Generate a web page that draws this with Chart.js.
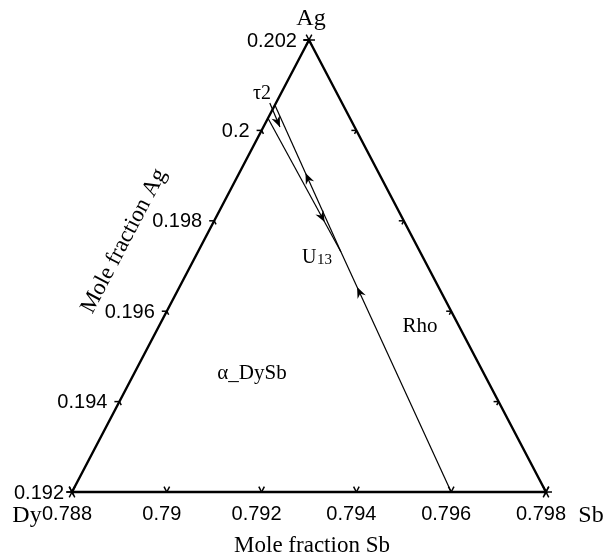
<!DOCTYPE html>
<html>
<head>
<meta charset="utf-8">
<script src="https://cdn.jsdelivr.net/npm/chart.js@4.4.0/dist/chart.umd.min.js"></script>
<style>
  html, body { margin: 0; padding: 0; background: #fff; }
  #wrap { width: 604px; height: 557px; }
</style>
</head>
<body>
<div id="wrap"><canvas id="chart"></canvas></div>
<script>
// compositions as [mole fraction Sb, mole fraction Ag]
const corners = [[0.788, 0.192], [0.798, 0.192], [0.788, 0.202], [0.788, 0.192]];
const u13 = [0.79102, 0.19731];
const rhoBoundary = [[0.796, 0.192], u13];
const upperBoundary = [u13, [0.788, 0.20056]];
const tau2Boundary = [[0.788, 0.20027], u13];
const tau2Pointer = [[0.78787, 0.200606], [0.78835, 0.200075]];

const sbTicks = [0.788, 0.79, 0.792, 0.794, 0.796, 0.798];
const sbTickLabels = ['0.788', '0.79', '0.792', '0.794', '0.796', '0.798'];
const agTicks = [0.192, 0.194, 0.196, 0.198, 0.2, 0.202];
const agTickLabels = ['0.192', '0.194', '0.196', '0.198', '0.2', '0.202'];

// ternary -> cartesian
function toXY(p) {
  return { x: p[0] + p[1] / 2, y: p[1] };
}

const SERIF = '"Liberation Serif", "Times New Roman", serif';
const SANS = '"Liberation Sans", Arial, sans-serif';

function line(pts, width, extra) {
  return Object.assign({
    data: pts.map(toXY),
    showLine: true,
    borderColor: '#000',
    borderWidth: width,
    pointRadius: 0,
    pointHoverRadius: 0,
    fill: false,
    tension: 0
  }, extra || {});
}

const ternaryPlugin = {
  id: 'ternary',
  afterDatasetsDraw(chart) {
    const ctx = chart.ctx;
    const xs = chart.scales.x, ys = chart.scales.y;
    const px = p => { const c = toXY(p); return [xs.getPixelForValue(c.x), ys.getPixelForValue(c.y)]; };

    // arrowheads
    chart.data.datasets.forEach((ds, i) => {
      if (!ds.arrowAt) return;
      const pts = chart.getDatasetMeta(i).data;
      const a = pts[0], b = pts[1];
      ds.arrowAt.forEach(f => {
        const tx = a.x + f * (b.x - a.x), ty = a.y + f * (b.y - a.y);
        const ang = Math.atan2(b.y - a.y, b.x - a.x);
        ctx.save();
        ctx.translate(tx, ty);
        ctx.rotate(ang);
        ctx.fillStyle = '#000';
        ctx.beginPath();
        ctx.moveTo(0, 0);
        ctx.lineTo(-11, -4.5);
        ctx.lineTo(-7.5, 0);
        ctx.lineTo(-11, 4.5);
        ctx.closePath();
        ctx.fill();
        ctx.restore();
      });
    });

    // tick marks
    const dy = px([0.788, 0.192]), sb = px([0.798, 0.192]), ag = px([0.788, 0.202]);
    const unit = (p, q) => { const l = Math.hypot(q[0] - p[0], q[1] - p[1]); return [(q[0] - p[0]) / l, (q[1] - p[1]) / l]; };
    const upR = unit(dy, ag), upL = unit(sb, ag);
    ctx.save();
    ctx.strokeStyle = '#000';
    ctx.lineWidth = 1.5;
    const seg = (p, d, len) => { ctx.beginPath(); ctx.moveTo(p[0], p[1]); ctx.lineTo(p[0] + d[0] * len, p[1] + d[1] * len); ctx.stroke(); };
    sbTicks.forEach(v => {
      const p = px([v, 0.192]);
      seg(p, upR, 6); seg(p, upL, 6);
    });
    agTicks.forEach(v => {
      const pl = px([0.788, v]);
      const pr = px([0.798 - (v - 0.192), v]);
      seg(pl, [-1, 0], 5); seg(pl, [-upL[0], -upL[1]], 4);
      seg(pr, [-1, 0], 5); seg(pr, [-upR[0], -upR[1]], 4);
    });
    // corner stars
    [dy, sb, ag].forEach(p => {
      seg(p, [1, 0], 6); seg(p, [-1, 0], 6);
      seg(p, upR, 6); seg(p, [-upR[0], -upR[1]], 6);
      seg(p, upL, 6); seg(p, [-upL[0], -upL[1]], 6);
    });
    ctx.restore();

    // tick labels
    ctx.save();
    ctx.fillStyle = '#000';
    ctx.font = '20px ' + SANS;
    ctx.textAlign = 'center';
    ctx.textBaseline = 'middle';
    sbTicks.forEach((v, i) => {
      const p = px([v, 0.192]);
      ctx.fillText(sbTickLabels[i], p[0] - 5, p[1] + 22);
    });
    ctx.textAlign = 'right';
    agTicks.forEach((v, i) => {
      const p = px([0.788, v]);
      const off = i === 0 ? 8 : 12;
      ctx.fillText(agTickLabels[i], p[0] - off, p[1] + 1);
    });

    // names and titles
    ctx.font = '24px ' + SERIF;
    ctx.textAlign = 'center';
    ctx.fillText('Ag', 311, 19);
    ctx.fillText('Dy', 27, 516);
    ctx.fillText('Sb', 591, 516);
    ctx.font = '23px ' + SERIF;
    ctx.fillText('Mole fraction Sb', 312, 546);
    ctx.save();
    ctx.translate(124, 241);
    ctx.rotate(Math.atan2(ag[1] - dy[1], ag[0] - dy[0]));
    ctx.fillText('Mole fraction Ag', 0, 0);
    ctx.restore();

    ctx.font = '21px ' + SERIF;
    ctx.fillText('Rho', 420, 326);
    ctx.fillText('\u03b1_DySb', 252, 373);
    ctx.font = '20px ' + SERIF;
    ctx.fillText('\u03c42', 262, 94);
    ctx.textAlign = 'left';
    ctx.font = '20px ' + SERIF;
    ctx.fillText('U', 302, 258);
    ctx.font = '15px ' + SERIF;
    ctx.fillText('13', 317, 260);
    ctx.restore();
  }
};

new Chart(document.getElementById('chart'), {
  type: 'scatter',
  data: {
    datasets: [
      line(corners, 2.4),
      line(rhoBoundary, 1.2, { arrowAt: [0.854] }),
      line(upperBoundary, 1.2, { arrowAt: [0.537] }),
      line(tau2Boundary, 1.2, { arrowAt: [0.776] }),
      line(tau2Pointer, 1.2, { arrowAt: [1] })
    ]
  },
  options: {
    responsive: true,
    maintainAspectRatio: false,
    animation: false,
    layout: { padding: 0 },
    plugins: { legend: { display: false }, tooltip: { enabled: false } },
    scales: {
      x: { type: 'linear', display: false, min: 0.882481, max: 0.895224 },
      y: { type: 'linear', display: false, min: 0.190562, max: 0.202885 }
    }
  },
  plugins: [ternaryPlugin]
});
</script>
</body>
</html>
